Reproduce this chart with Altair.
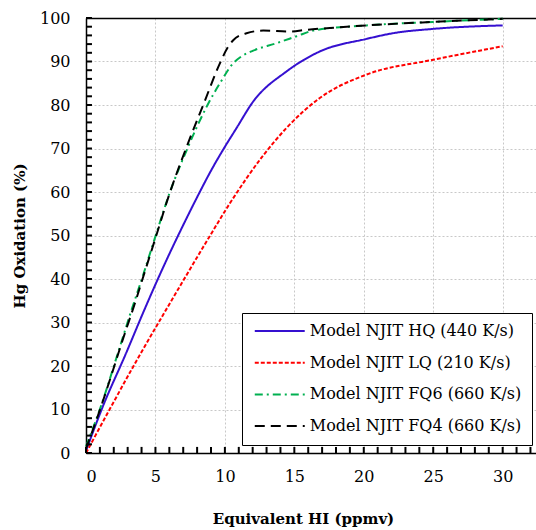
import altair as alt
import pandas as pd

series_names = [
    "Model NJIT HQ (440 K/s)",
    "Model NJIT LQ (210 K/s)",
    "Model NJIT FQ6 (660 K/s)",
    "Model NJIT FQ4 (660 K/s)",
]

hq_x = [0, 1.2, 2.88, 4.2, 5.5, 7.0, 8.0, 9.0, 10.0, 10.8, 12.04, 14.43, 16.83, 20.2, 22.1, 25, 30]
hq_y = [0.5, 10.6, 22.9, 32.9, 42.3, 52.4, 58.8, 64.9, 70.4, 74.5, 80.8, 87.7, 92.3, 95.2, 96.5, 97.5, 98.3]

lq_x = [0, 1.68, 3.6, 5.87, 7.2, 8.75, 10.36, 12.76, 14.43, 16.83, 20.2, 25, 30]
lq_y = [0, 9.9, 21.0, 33.5, 40.7, 49.0, 57.4, 68.4, 74.7, 81.6, 87.0, 90.4, 93.5]

fq6_x = [0, 1.08, 2.4, 3.24, 4.07, 5.0, 6.0, 7.3, 8.75, 9.64, 10.6, 11.2, 12.04, 13.7, 15.16, 16.35, 20.2, 25, 30]
fq6_y = [1.5, 10.8, 24.0, 32.5, 40.5, 49.8, 59.6, 70.0, 80.0, 85.0, 89.6, 91.2, 92.5, 94.2, 95.8, 97.1, 98.3, 99.1, 99.8]

fq4_x = [0, 0.96, 1.92, 2.64, 3.6, 4.07, 5.04, 6.0, 7.2, 8.44, 9.7, 10.2, 10.6, 11.56, 12.76, 14.7, 15.9, 17.55, 20.2, 25, 30]
fq4_y = [1.0, 9.5, 18.8, 26.0, 35.2, 40.0, 49.8, 59.5, 70.0, 80.0, 90.0, 93.2, 94.9, 96.5, 97.1, 96.9, 97.3, 97.7, 98.3, 99.1, 99.8]

x_major = [0, 5, 10, 15, 20, 25, 30]
x_minor = list(range(0, 33))
y_major = list(range(0, 101, 10))
y_minor = list(range(0, 101, 2))

rows = []
for name, xs, ys in zip(series_names, [hq_x, lq_x, fq6_x, fq4_x], [hq_y, lq_y, fq6_y, fq4_y]):
    for i, (a, b) in enumerate(zip(xs, ys)):
        rows.append({"series": name, "hi": a, "ox": b, "i": i})
df = pd.DataFrame(rows)

# inside tick marks (about 6 px long, expressed in data units of each axis)
TICK_X_LEN = 0.43
TICK_Y_LEN = 1.4
xt_df = pd.DataFrame({"hi": x_minor, "ox": [0] * len(x_minor), "ox2": [TICK_Y_LEN] * len(x_minor)})
yt_df = pd.DataFrame({"hi": [0] * len(y_minor), "hi2": [TICK_X_LEN] * len(y_minor), "ox": y_minor})

FONT = "DejaVu Serif"

xscale = alt.Scale(domain=[0, 32.4], nice=False, zero=False)
yscale = alt.Scale(domain=[0, 100], nice=False)

color_scale = alt.Scale(domain=series_names, range=["#3510d0", "#ff0000", "#00b050", "#000000"])
dash_scale = alt.Scale(domain=series_names, range=[[1, 0], [4, 2], [8, 4, 2, 4], [10, 6]])
width_scale = alt.Scale(domain=series_names, range=[2, 2, 2.5, 3])

legend = alt.Legend(
    title=None,
    orient="none",
    legendX=156,
    legendY=295,
    symbolType="M-4,0H4",
    symbolSize=156,
    symbolOffset=19.75,
    labelFont=FONT,
    labelFontSize=16,
    labelColor="black",
    labelOffset=22,
    labelLimit=400,
    rowPadding=15.7,
    padding=10,
    fillColor="white",
    strokeColor="black",
)

lines = alt.Chart(df).mark_line(interpolate="monotone").encode(
    x=alt.X(
        "hi:Q",
        scale=xscale,
        axis=alt.Axis(
            values=x_major,
            orient="bottom",
            grid=True,
            gridDash=[2, 2],
            gridColor="#c8c8c8",
            gridWidth=1,
            ticks=False,
            tickSize=0,
            domainColor="black",
            domainWidth=1.5,
            labelFont=FONT,
            labelFontSize=16,
            labelColor="black",
            labelPadding=15,
            title="Equivalent HI (ppmv)",
            titleFont=FONT,
            titleFontSize=15,
            titleFontWeight="bold",
            titleColor="black",
            titleX=217,
            titleY=70,
            titleBaseline="alphabetic",
        ),
    ),
    y=alt.Y(
        "ox:Q",
        scale=yscale,
        axis=alt.Axis(
            values=y_major,
            orient="left",
            grid=True,
            gridDash=[2, 2],
            gridColor="#c8c8c8",
            gridWidth=1,
            ticks=False,
            tickSize=0,
            domainColor="black",
            domainWidth=1.5,
            labelFont=FONT,
            labelFontSize=16,
            labelColor="black",
            labelPadding=16,
            title="Hg Oxidation (%)",
            titleFont=FONT,
            titleFontSize=15,
            titleFontWeight="bold",
            titleColor="black",
            titleAngle=270,
            titleX=-62,
            titleY=217.5,
            titleBaseline="alphabetic",
            titleAlign="center",
        ),
    ),
    color=alt.Color("series:N", scale=color_scale, legend=legend),
    strokeDash=alt.StrokeDash("series:N", scale=dash_scale, legend=legend),
    strokeWidth=alt.StrokeWidth("series:N", scale=width_scale, legend=legend),
    order=alt.Order("i:Q"),
)

x_ticks = alt.Chart(xt_df).mark_rule(color="black", strokeWidth=2).encode(
    x=alt.X("hi:Q", scale=xscale, axis=None),
    y=alt.Y("ox:Q", scale=yscale, axis=None),
    y2="ox2:Q",
)

y_ticks = alt.Chart(yt_df).mark_rule(color="black", strokeWidth=2).encode(
    x=alt.X("hi:Q", scale=xscale, axis=None),
    x2="hi2:Q",
    y=alt.Y("ox:Q", scale=yscale, axis=None),
)

top_layer = alt.Chart(xt_df).mark_point(opacity=0).encode(
    x=alt.X(
        "hi:Q",
        scale=xscale,
        axis=alt.Axis(
            orient="top",
            labels=False,
            ticks=False,
            grid=False,
            domainColor="black",
            domainWidth=1.5,
            title=None,
        ),
    ),
    y=alt.Y("ox:Q", scale=yscale, axis=None),
)

chart = (
    alt.layer(lines, x_ticks, y_ticks, top_layer)
    .resolve_axis(x="independent", y="independent")
    .properties(
        width=450,
        height=435,
        autosize=alt.AutoSizeParams(type="none"),
        padding={"left": 86, "top": 18, "right": 0, "bottom": 77},
        background="white",
    )
    .configure_view(stroke=None)
)

chart.save("out.html", embed_options={"renderer": "svg", "actions": False})
